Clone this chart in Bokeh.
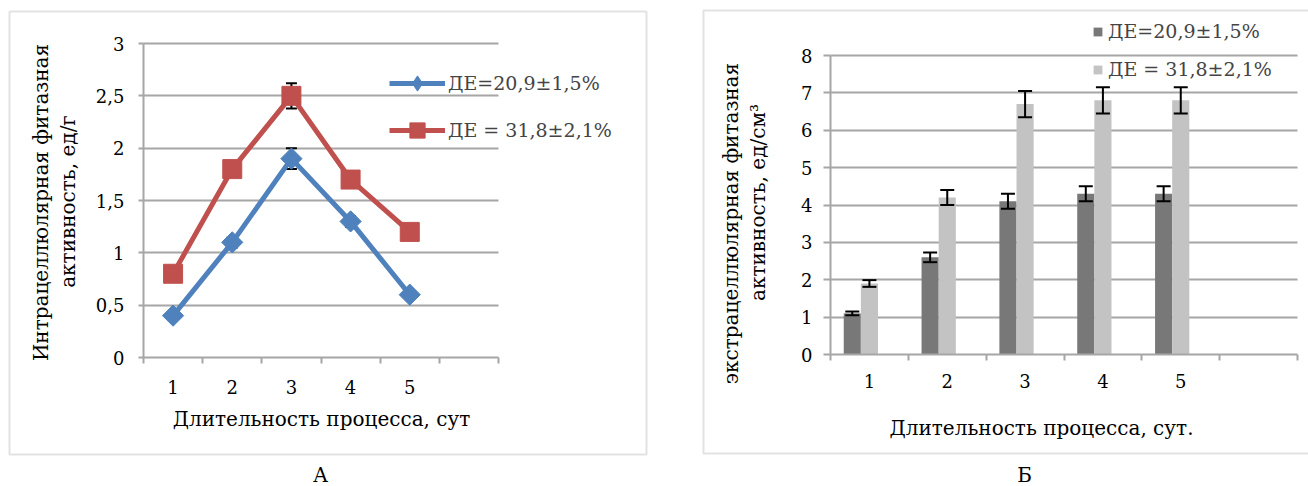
from math import pi
from bokeh.plotting import figure
from bokeh.models import (ColumnDataSource, Whisker, TeeHead, Legend, LegendItem, Label,
                          FixedTicker, CustomJSTickFormatter, BoxAnnotation, Range1d, Grid)
from bokeh.layouts import row
from bokeh.transform import dodge
from bokeh.embed import file_html
from bokeh.resources import INLINE

# ---------------- data ----------------
days = [1, 2, 3, 4, 5]
series_a = "ДЕ=20,9±1,5%"
series_b = "ДЕ = 31,8±2,1%"

intra_a = [0.4, 1.1, 1.9, 1.3, 0.6]
intra_a_err = [0.02, 0.05, 0.1, 0.05, 0.02]
intra_b = [0.8, 1.8, 2.5, 1.7, 1.2]
intra_b_err = [0.03, 0.04, 0.12, 0.04, 0.03]

extra_a = [1.1, 2.6, 4.1, 4.3, 4.3]
extra_a_err = [0.05, 0.13, 0.2, 0.2, 0.2]
extra_b = [1.9, 4.2, 6.7, 6.8, 6.8]
extra_b_err = [0.09, 0.2, 0.35, 0.35, 0.35]

y_ticks_left = [0, 0.5, 1, 1.5, 2, 2.5, 3]
y_ticks_right = [0, 1, 2, 3, 4, 5, 6, 7, 8]
cat_edges = [0.5, 1.5, 2.5, 3.5, 4.5, 5.5, 6.5]

title_left_1 = "Интрацеллюлярная фитазная"
title_left_2 = "активность, ед/г"
title_right_1 = "экстрацеллюлярная фитазная"
title_right_2 = "активность, ед/см³"
x_title_left = "Длительность процесса, сут"
x_title_right = "Длительность процесса, сут."
panel_a = "А"
panel_b = "Б"

FONT = "DejaVu Serif"
GRID = "#A6A6A6"
BOX = "#A0A0A0"
BLUE = "#4F81BD"
RED = "#C0504D"
DARK = "#787878"
LIGHT = "#C3C3C3"
H = 486

comma_fmt = CustomJSTickFormatter(code="return String(tick).replace('.', ',');")
HAS_CROSS = "cross_bounds" in Grid.properties()


class PixMap:
    """Maps canvas pixels to data so that the plot region lands where wanted."""
    def __init__(self, W, px_x0, px_x1, dx0, dx1, px_y0, px_y1, dy0, dy1):
        self.sx = (dx1 - dx0) / (px_x1 - px_x0)
        self.x0 = dx0 - px_x0 * self.sx
        self.sy = (dy1 - dy0) / (px_y0 - px_y1)
        self.py0, self.dy0 = px_y0, dy0
        self.W = W

    def x(self, px):
        return self.x0 + px * self.sx

    def y(self, py):
        return self.dy0 + (self.py0 - py) * self.sy

    def ranges(self):
        return Range1d(self.x(0), self.x(self.W)), Range1d(self.y(H), self.y(0))


def make_fig(m, yticks, ymax, ystandoff, ytick_out, xstandoff):
    xr, yr = m.ranges()
    p = figure(width=m.W, height=H, x_range=xr, y_range=yr,
               output_backend="svg", toolbar_location=None)
    p.min_border = 0
    p.outline_line_color = None
    p.xaxis.fixed_location = 0
    p.yaxis.fixed_location = 0.5
    p.xaxis.bounds = (0.5, 6.5)
    p.yaxis.bounds = (0, ymax)
    p.xaxis.ticker = FixedTicker(ticks=days, minor_ticks=cat_edges)
    p.xaxis.major_tick_out = 0
    p.xaxis.major_tick_in = 0
    p.xaxis.minor_tick_out = 6
    p.xaxis.minor_tick_in = 0
    p.xaxis.minor_tick_line_color = GRID
    p.xaxis.minor_tick_line_width = 2
    p.xaxis.axis_line_color = GRID
    p.xaxis.axis_line_width = 2
    p.xaxis.major_label_standoff = xstandoff
    p.yaxis.ticker = FixedTicker(ticks=yticks)
    p.yaxis.formatter = comma_fmt
    p.yaxis.major_tick_out = ytick_out
    p.yaxis.major_tick_in = 0
    p.yaxis.minor_tick_out = 0
    p.yaxis.minor_tick_in = 0
    p.yaxis.major_tick_line_color = GRID
    p.yaxis.major_tick_line_width = 2
    p.yaxis.axis_line_color = GRID
    p.yaxis.axis_line_width = 2
    p.yaxis.major_label_standoff = ystandoff
    for ax in (p.xaxis, p.yaxis):
        ax.major_label_text_font = FONT
        ax.major_label_text_font_size = "18px"
        ax.major_label_text_color = "#000000"
    p.xgrid.visible = False
    if HAS_CROSS:
        p.ygrid.ticker = FixedTicker(ticks=yticks[1:])
        p.ygrid.grid_line_color = GRID
        p.ygrid.grid_line_width = 2
        p.ygrid.cross_bounds = (0.5, 6.5)
    else:
        p.ygrid.visible = False
        gl = yticks[1:]
        p.segment(x0=[0.5] * len(gl), x1=[6.5] * len(gl), y0=gl, y1=gl,
                  line_color=GRID, line_width=2, level="underlay")
    return p


def add_text(p, m, px, py, text, angle=0.0, size="20px"):
    p.add_layout(Label(x=m.x(px), y=m.y(py), text=text, angle=angle,
                       text_font=FONT, text_font_size=size,
                       text_align="center", text_baseline="middle", text_color="#000000"))


def add_box(p, m, l, r, t, b):
    p.add_layout(BoxAnnotation(left=m.x(l), right=m.x(r), top=m.y(t), bottom=m.y(b),
                               fill_alpha=0, line_color=BOX, line_width=2, level="underlay"))


# ---------------- chart A ----------------
m1 = PixMap(675, 143, 498, 0.5, 6.5, 357, 43, 0, 3)
p1 = make_fig(m1, y_ticks_left, 3, 14, 5, 16)

src1 = ColumnDataSource(dict(day=days, a=intra_a, b=intra_b,
                             a_lo=[v - e for v, e in zip(intra_a, intra_a_err)],
                             a_hi=[v + e for v, e in zip(intra_a, intra_a_err)],
                             b_lo=[v - e for v, e in zip(intra_b, intra_b_err)],
                             b_hi=[v + e for v, e in zip(intra_b, intra_b_err)]))
for lo, hi in (("a_lo", "a_hi"), ("b_lo", "b_hi")):
    p1.add_layout(Whisker(source=src1, base="day", lower=lo, upper=hi,
                          line_color="black", line_width=2, level="underlay",
                          upper_head=TeeHead(size=11, line_width=2, line_color="black"),
                          lower_head=TeeHead(size=11, line_width=2, line_color="black")))
la = p1.line("day", "a", source=src1, line_color=BLUE, line_width=5)
# diamond key (used by the legend), covered by the rotated-square markers below
ka = p1.scatter("day", "a", source=src1, marker="diamond", size=16,
                fill_color=BLUE, line_color=BLUE)
ma = p1.scatter("day", "a", source=src1, marker="square", angle=pi / 4, size=15,
                fill_color=BLUE, line_color=BLUE)
lb = p1.line("day", "b", source=src1, line_color=RED, line_width=5)
mb = p1.scatter("day", "b", source=src1, marker="square", size=19,
                fill_color=RED, line_color=RED)

leg1 = Legend(items=[LegendItem(label=series_a, renderers=[la, ka]),
                     LegendItem(label=series_b, renderers=[lb, mb])],
              location=(389, H - 149), orientation="vertical",
              glyph_width=56, glyph_height=38, label_standoff=3, spacing=9,
              padding=0, margin=0, border_line_alpha=0, background_fill_alpha=0,
              label_text_font=FONT, label_text_font_size="19px", label_height=20)
p1.add_layout(leg1, "center")

add_text(p1, m1, 40, 202, title_left_1, angle=pi / 2)
add_text(p1, m1, 67, 201, title_left_2, angle=pi / 2)
add_text(p1, m1, 321, 418, x_title_left)
add_text(p1, m1, 320, 474, panel_a)
add_box(p1, m1, 9, 646, 11, 454)

# ---------------- chart Б ----------------
OFF = 675
m2 = PixMap(633, 830 - OFF, 1297 - OFF, 0.5, 6.5, 354, 55, 0, 8)
p2 = make_fig(m2, y_ticks_right, 8, 11, 7, 13)

src2 = ColumnDataSource(dict(day=days, a=extra_a, b=extra_b,
                             a_lo=[v - e for v, e in zip(extra_a, extra_a_err)],
                             a_hi=[v + e for v, e in zip(extra_a, extra_a_err)],
                             b_lo=[v - e for v, e in zip(extra_b, extra_b_err)],
                             b_hi=[v + e for v, e in zip(extra_b, extra_b_err)]))
va = p2.vbar(x=dodge("day", -0.22, range=p2.x_range), top="a", width=0.22, source=src2,
             fill_color=DARK, line_color=None)
vb = p2.vbar(x=dodge("day", 0.0, range=p2.x_range), top="b", width=0.22, source=src2,
             fill_color=LIGHT, line_color=None)
for off, lo, hi in ((-0.22, "a_lo", "a_hi"), (0.0, "b_lo", "b_hi")):
    p2.add_layout(Whisker(source=src2, base=dodge("day", off, range=p2.x_range),
                          lower=lo, upper=hi, line_color="black", line_width=2, level="overlay",
                          upper_head=TeeHead(size=14, line_width=2, line_color="black"),
                          lower_head=TeeHead(size=14, line_width=2, line_color="black")))

leg2 = Legend(items=[LegendItem(label=series_a, renderers=[va]),
                     LegendItem(label=series_b, renderers=[vb])],
              location=(1092 - OFF, H - 80), orientation="vertical",
              glyph_width=11, glyph_height=11, label_standoff=5, spacing=16,
              padding=0, margin=0, border_line_alpha=0, background_fill_alpha=0,
              label_text_font=FONT, label_text_font_size="19px", label_height=20)
p2.add_layout(leg2, "center")

add_text(p2, m2, 730 - OFF, 223, title_right_1, angle=pi / 2)
add_text(p2, m2, 757 - OFF, 202, title_right_2, angle=pi / 2)
add_text(p2, m2, 1041 - OFF, 427, x_title_right)
add_text(p2, m2, 1024 - OFF, 474, panel_b)
add_box(p2, m2, 703 - OFF, 700, 10, 453)

layout = row(p1, p2)
open("out.html", "w").write(file_html(layout, INLINE))
